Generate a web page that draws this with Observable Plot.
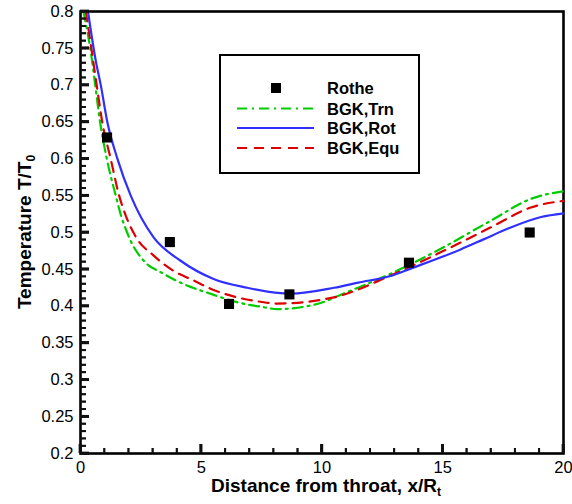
<!DOCTYPE html>
<html>
<head>
<meta charset="utf-8">
<script src="https://cdn.jsdelivr.net/npm/d3@7"></script>
<script src="https://cdn.jsdelivr.net/npm/@observablehq/plot@0.6"></script>
</head>
<body style="margin:0;background:#fff">
<div id="chart"></div>
<script>
// Rothe experimental data
const rotheX = [1.1, 3.7, 6.15, 8.65, 13.6, 18.6];
const rotheY = [0.629, 0.487, 0.403, 0.416, 0.459, 0.500];

// BGK, Trn
const trnX = [0.12, 0.48, 0.61, 0.81, 1.09, 1.46, 1.66, 1.93, 2.1, 2.61, 3.44, 4.41, 5.37, 6.48, 7.59, 8.14, 9.8, 11.18, 12.84, 14.92, 16.99, 18.65, 20];
const trnY = [0.8, 0.733, 0.7, 0.65, 0.6, 0.55, 0.525, 0.5, 0.487, 0.462, 0.444, 0.428, 0.417, 0.4054, 0.3986, 0.396, 0.403, 0.421, 0.444, 0.478, 0.516, 0.5457, 0.556];

// BGK, Rot
const rotX = [0.31, 0.63, 0.84, 1.11, 1.53, 2.08, 3.02, 4.13, 5.51, 6.9, 8.28, 8.7, 10.5, 11.5, 12.84, 13.67, 15.74, 16.71, 17.68, 19.07, 20];
const rotY = [0.8, 0.7335, 0.7, 0.65, 0.6, 0.55, 0.4936, 0.462, 0.437, 0.425, 0.4176, 0.417, 0.425, 0.432, 0.441, 0.451, 0.477, 0.491, 0.505, 0.521, 0.526];

// BGK, Equ
const equX = [0.22, 0.45, 0.67, 0.9, 1.25, 1.6, 1.85, 2.33, 3.02, 3.85, 4.68, 5.51, 6.48, 7.45, 8.14, 10.49, 12.84, 14.78, 16.99, 18.65, 20];
const equY = [0.8, 0.75, 0.7, 0.65, 0.6, 0.55, 0.525, 0.492, 0.469, 0.448, 0.435, 0.422, 0.412, 0.406, 0.4035, 0.412, 0.4416, 0.471, 0.507, 0.534, 0.543];

// Ticks
const xMajor = [0, 5, 10, 15, 20];
const xMinor = [0, 1, 2, 3, 4, 5, 6, 7, 8, 9, 10, 11, 12, 13, 14, 15, 16, 17, 18, 19, 20];
const yMajor = [0.2, 0.25, 0.3, 0.35, 0.4, 0.45, 0.5, 0.55, 0.6, 0.65, 0.7, 0.75, 0.8];
const yMinor = d3.range(20, 81, 1).map(d => d / 100);

const seriesNames = ["Rothe", "BGK,Trn", "BGK,Rot", "BGK,Equ"];
const seriesColors = ["#000000", "#00cc00", "#2f2fff", "#dd0000"];
const seriesDash = [null, "10,5,2,5", null, "10,7"];

const toRows = (xs, ys) => xs.map((x, i) => ({x, y: ys[i]}));
const rothe = toRows(rotheX, rotheY);
const trn = toRows(trnX, trnY);
const rot = toRows(rotX, rotY);
const equ = toRows(equX, equY);

const FONT = "'Liberation Sans', Arial, Helvetica, sans-serif";
const X0 = 0, X1 = 20, Y0 = 0.2, Y1 = 0.8;
const TICK = "#111";

const plot = Plot.plot({
  width: 572,
  height: 504,
  marginLeft: 80,
  marginRight: 9,
  marginTop: 11,
  marginBottom: 51,
  x: {domain: [X0, X1]},
  y: {domain: [Y0, Y1]},
  marks: [
    Plot.frame({stroke: "black", strokeWidth: 2.6}),
    Plot.line(trn, {x: "x", y: "y", stroke: seriesColors[1], strokeWidth: 2.2, strokeDasharray: seriesDash[1], curve: "monotone-x"}),
    Plot.line(equ, {x: "x", y: "y", stroke: seriesColors[3], strokeWidth: 2.2, strokeDasharray: seriesDash[3], curve: "monotone-x"}),
    Plot.line(rot, {x: "x", y: "y", stroke: seriesColors[2], strokeWidth: 2.2, curve: "monotone-x"}),
    Plot.dot(rothe, {x: "x", y: "y", symbol: "square", r: 5.7, fill: "#000", stroke: "none"}),
    // inward ticks drawn as thin filled rects anchored on the axes
    Plot.rect(xMinor, {x1: d => d, x2: d => d, y1: Y0, y2: Y0, insetLeft: -0.75, insetRight: -0.75, insetTop: -5, fill: TICK}),
    Plot.rect(xMajor, {x1: d => d, x2: d => d, y1: Y0, y2: Y0, insetLeft: -1.2, insetRight: -1.2, insetTop: -9, fill: TICK}),
    Plot.rect(yMinor, {y1: d => d, y2: d => d, x1: X0, x2: X0, insetTop: -0.75, insetBottom: -0.75, insetRight: -6, fill: TICK}),
    Plot.rect(yMajor, {y1: d => d, y2: d => d, x1: X0, x2: X0, insetTop: -1.2, insetBottom: -1.2, insetRight: -9, fill: TICK}),
    // and as rules (same geometry)
    Plot.ruleX(xMinor, {x: d => d, y1: Y0, y2: Y0, insetTop: -5, stroke: TICK, strokeWidth: 1.5}),
    Plot.ruleX(xMajor, {x: d => d, y1: Y0, y2: Y0, insetTop: -9, stroke: TICK, strokeWidth: 2.4}),
    Plot.ruleY(yMinor, {y: d => d, x1: X0, x2: X0, insetRight: -6, stroke: TICK, strokeWidth: 1.5}),
    Plot.ruleY(yMajor, {y: d => d, x1: X0, x2: X0, insetRight: -9, stroke: TICK, strokeWidth: 2.4}),
    // tick labels
    Plot.axisX({ticks: xMajor, tickSize: 0, tickPadding: 8, tickFormat: d => String(d), label: null, fontSize: 16.5, fontFamily: FONT}),
    Plot.axisY({ticks: yMajor, tickSize: 0, tickPadding: 7, tickFormat: d => String(+d.toFixed(2)), label: null, fontSize: 16.5, fontFamily: FONT})
  ]
});

document.getElementById("chart").appendChild(plot);

const svg = d3.select(plot).attr("font-family", FONT);

function note(msg) {
  svg.append("text").attr("x", 430).attr("y", 440).attr("text-anchor", "start")
    .attr("fill", "#c00").style("font-size", "9px").text(String(msg).slice(0, 60));
}

try {
  // Axis titles
  const xt = svg.append("text")
    .attr("x", 326).attr("y", 492)
    .attr("text-anchor", "middle")
    .style("font-family", FONT).style("font-weight", "bold").style("font-size", "19px").attr("fill", "#000");
  xt.append("tspan").text("Distance from throat, x/R");
  xt.append("tspan").attr("dy", 4).style("font-size", "12px").text("t");

  const yt = svg.append("text")
    .attr("transform", "translate(31,232) rotate(-90)")
    .attr("text-anchor", "middle")
    .style("font-family", FONT).style("font-weight", "bold").style("font-size", "19px").attr("fill", "#000");
  yt.append("tspan").text("Temperature T/T");
  yt.append("tspan").attr("dy", 4).style("font-size", "12px").text("0");

  // Legend
  const lg = svg.append("g");
  lg.append("rect").attr("x", 220).attr("y", 55).attr("width", 199).attr("height", 118)
    .attr("fill", "#fff").attr("stroke", "#000").attr("stroke-width", 2);
  const rowsY = [88, 108.5, 128, 148];
  seriesNames.forEach((name, i) => {
    const cy = rowsY[i];
    if (i === 0) {
      lg.append("rect").attr("x", 271).attr("y", cy - 5).attr("width", 10).attr("height", 10).attr("fill", "#000");
    } else {
      const l = lg.append("line").attr("x1", 237).attr("x2", 314).attr("y1", cy).attr("y2", cy)
        .attr("stroke", seriesColors[i]).attr("stroke-width", 2.2);
      if (seriesDash[i]) l.attr("stroke-dasharray", seriesDash[i]);
    }
    lg.append("text").attr("x", 327).attr("y", cy + 6)
      .attr("text-anchor", "start")
      .style("font-family", FONT).style("font-weight", "bold").style("font-size", "16.5px")
      .attr("fill", "#000").text(name);
  });
} catch (e) { note("A " + e.message); }

try {
  // Same inward ticks once more, placed through Plot's own scales
  const sx = plot.scale("x"), sy = plot.scale("y");
  const bottom = sy.apply(Y0), left = sx.apply(X0);
  const tk = svg.append("g");
  const vTick = (v, len, w) => tk.append("rect")
    .attr("x", sx.apply(v) - w / 2).attr("y", bottom - len).attr("width", w).attr("height", len).attr("fill", TICK);
  const hTick = (v, len, w) => tk.append("rect")
    .attr("x", left).attr("y", sy.apply(v) - w / 2).attr("width", len).attr("height", w).attr("fill", TICK);
  xMinor.forEach(v => vTick(v, 5, 1.5));
  xMajor.forEach(v => vTick(v, 9, 2.4));
  yMinor.forEach(v => hTick(v, 6, 1.5));
  yMajor.forEach(v => hTick(v, 9, 2.4));
} catch (e) { note("B " + e.message); }
</script>
</body>
</html>
